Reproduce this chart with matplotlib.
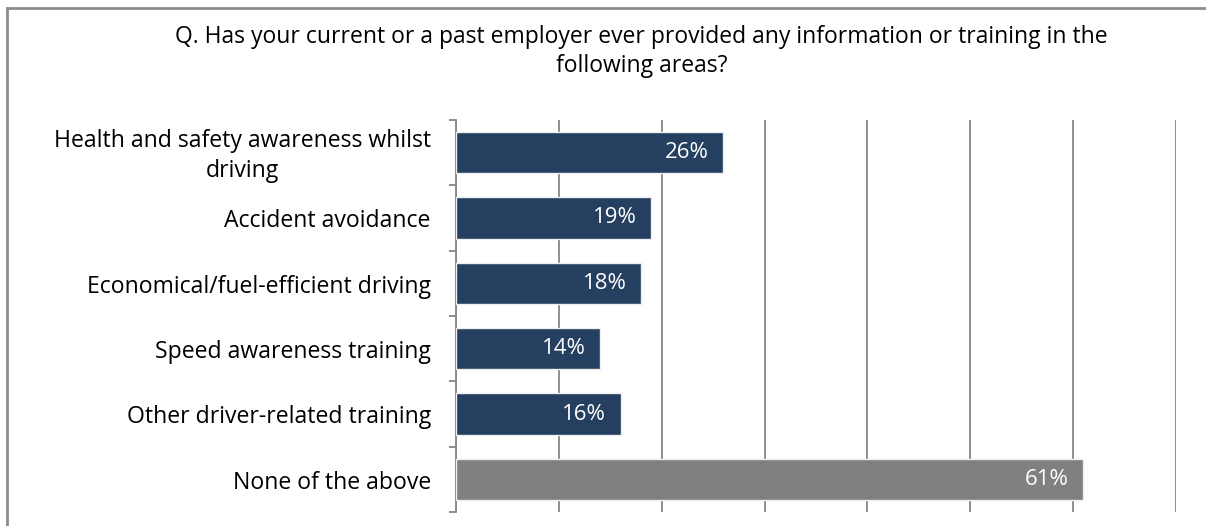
import matplotlib.pyplot as plt
from matplotlib.lines import Line2D

# Survey answers, top to bottom
categories = [
    "Health and safety awareness whilst\ndriving",
    "Accident avoidance",
    "Economical/fuel-efficient driving",
    "Speed awareness training",
    "Other driver-related training",
    "None of the above",
]
values = [26, 19, 18, 14, 16, 61]
colors = ["#253f60"] * 5 + ["#808080"]

title = ("Q. Has your current or a past employer ever provided any information or training in the\n"
         "following areas?")

plt.rcParams["font.family"] = ["Open Sans", "DejaVu Sans"]

fig = plt.figure(figsize=(12.06, 5.26), dpi=100)
ax = fig.add_axes([0.3781, 0.0266, 0.5970, 0.7453])

y = list(range(len(categories)))
ax.barh(y, values, height=0.63, color=colors, edgecolor="#eeeeee", linewidth=1, zorder=3)

for yi, v in zip(y, values):
    ax.text(v - 1.4, yi, f"{v}%", color="white", ha="right", va="center",
            fontsize=16, zorder=4)

ax.set_xlim(0, 70)
ax.set_ylim(len(categories) - 0.5, -0.5)
ax.set_xticks(range(0, 71, 10))
ax.tick_params(axis="x", length=0, labelbottom=False)
ax.grid(axis="x", color="#868686", linewidth=1.3, zorder=0)

# category labels sit between boundary ticks on the left spine
ax.set_yticks(y)
ax.set_yticklabels([])
ax.set_yticks([i - 0.5 for i in range(len(categories) + 1)], minor=True)
ax.tick_params(axis="y", which="major", length=0)
ax.tick_params(axis="y", which="minor", length=5, width=1.3, color="#868686", direction="out")
for yi, label in zip(y, categories):
    ax.text(-0.035, yi + 0.05, label, transform=ax.get_yaxis_transform(), ha="right", va="center",
            multialignment="center", fontsize=16.6, color="black", linespacing=1.35)

for side in ["top", "right", "bottom"]:
    ax.spines[side].set_visible(False)
ax.spines["left"].set_color("#868686")
ax.spines["left"].set_linewidth(1.3)

fig.text(0.532, 0.902, title, ha="center", va="center", fontsize=16.5, linespacing=1.3)

# outer frame (left and top edges)
fig.add_artist(Line2D([0.0062, 0.0062], [0, 0.985], color="#8c8c8c", linewidth=2))
fig.add_artist(Line2D([0.0062, 1.0], [0.985, 0.985], color="#8c8c8c", linewidth=2))

fig.savefig("out.png", dpi=100)
